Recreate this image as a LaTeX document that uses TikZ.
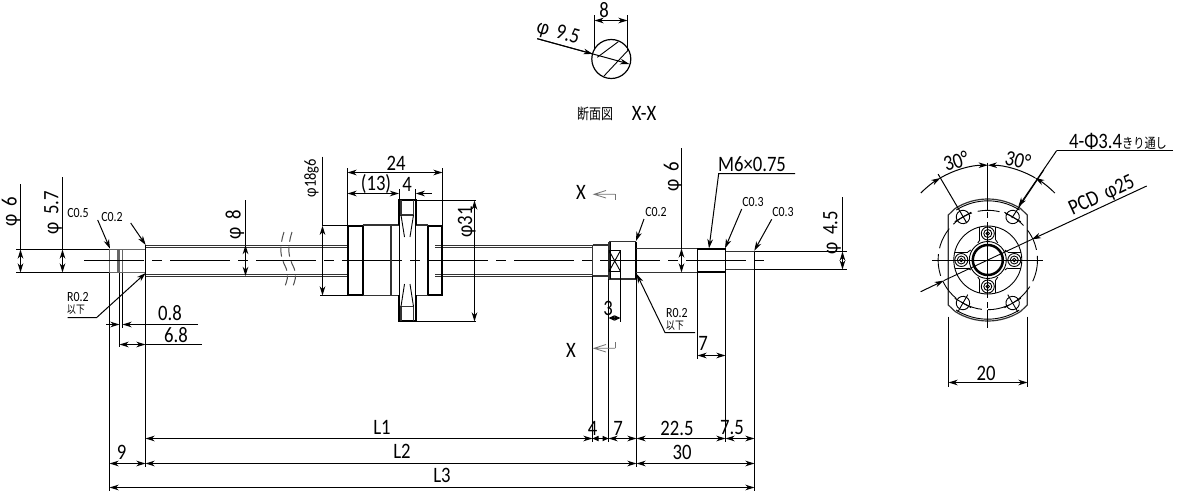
\documentclass[tikz,border=0pt]{standalone}
\usepackage{fontspec}
\setmainfont[FakeStretch=.85]{Carlito}
\newfontfamily\cjk[FakeStretch=.8]{Noto Sans CJK JP}
\newcommand{\dsp}{\hspace*{.35em}}
\usetikzlibrary{arrows.meta}
\tikzset{
  thinl/.style={line width=.45pt,black},
  midl/.style={line width=.6pt,black!80},
  boldl/.style={line width=.85pt,black},
  grayl/.style={line width=.5pt,black!60},
  dimline/.style={line width=.5pt,black,arrows={Stealth[length=4.6pt,width=2.8pt,inset=1.4pt]-Stealth[length=4.6pt,width=2.8pt,inset=1.4pt]}},
  dimtight/.style={line width=.5pt,black,arrows={Stealth[length=3pt,width=2.6pt,inset=0pt]-Stealth[length=3pt,width=2.6pt,inset=0pt]}},
  lead/.style={line width=.5pt,black,arrows={-Stealth[length=4.6pt,width=2.8pt,inset=1.4pt]}},
  ext/.style={line width=.5pt,black},
  centerl/.style={line width=.5pt,black,dash pattern=on 30pt off 4pt on 5pt off 4pt},
  big/.style={inner sep=0pt,font=\fontsize{11}{11}\selectfont},
  small/.style={inner sep=0pt,font=\fontsize{7}{7}\selectfont},
  viewarrow/.style={line width=.4pt,black!55},
}
\begin{document}
\begin{tikzpicture}[x=.5pt,y=.5pt,yscale=-1]
\path[use as bounding box,fill=white] (0,0) rectangle (1180,493);

% ---------- shaft, left end
\draw[boldl] (16,249.5) -- (109.5,249.5) (16,272.5) -- (109.5,272.5);
\draw[grayl,line width=.8pt] (109.5,249.5) rectangle (118,272.5);
\draw[grayl,line width=.8pt] (119.5,249.5) rectangle (122.5,272.5);
\draw[grayl] (122.5,249.5) -- (145.5,249.5) (122.5,272.5) -- (145.5,272.5);
\draw[boldl] (145.5,245) -- (145.5,276);
% main shaft
\draw[midl] (145.5,245.5) -- (347.7,245.5) (145.5,247.5) -- (347.7,247.5)
  (145.5,274.5) -- (347.7,274.5) (145.5,276.5) -- (347.7,276.5);
\draw[midl] (435,245.5) -- (592.5,245.5) (435,247.5) -- (592.5,247.5)
  (435,274.5) -- (592.5,274.5) (435,276.5) -- (592.5,276.5);
% break marks
\draw[black!70,line width=.5pt,dash pattern=on 5pt off 2.5pt] (284,232) .. controls (279,248) and (280,256) .. (286,268) .. controls (289,276) and (287,282) .. (284,288);
\draw[black!70,line width=.5pt,dash pattern=on 5pt off 2.5pt] (292,232) .. controls (287,248) and (288,256) .. (294,268) .. controls (297,276) and (295,282) .. (292,288);
% centre line
\draw[centerl] (84,260.5) -- (769,260.5);

% ---------- nut
\draw[boldl] (347.7,225.7) rectangle (362.7,295.3);
\draw[boldl] (427.7,225.7) rectangle (442.3,295.3);
\draw[midl] (362.7,225) -- (399,225) (362.7,295.3) -- (399,295.3);
\draw[midl] (391,225) -- (391,295.3);
\draw[midl] (415.7,225) -- (427.7,225) (415.7,295.3) -- (427.7,295.3);
\draw[boldl] (399,225) -- (399,200) -- (415.7,200) -- (415.7,225);
\draw[boldl] (399,295.3) -- (399,321) -- (415.7,321) -- (415.7,295.3);
\draw[midl] (401,200) -- (401,215) -- (413.5,215) -- (413.5,200);
\draw[midl] (401,321) -- (401,306.5) -- (413.5,306.5) -- (413.5,321);
\draw[thinl] (399,225) -- (399,295.3) (415.7,225) -- (415.7,295.3);
\draw[thinl] (401,215) -- (404.5,237) (413.5,215) -- (410,237);
\draw[thinl] (401,306.5) -- (404.5,284) (413.5,306.5) -- (410,284);

% ---------- right end
\draw[midl] (592.5,245) -- (609,245) (592.5,276) -- (609,276) (592.5,245) -- (592.5,276);
\draw[midl] (609,241.7) -- (635.7,241.7) (609,279) -- (635.7,279) (609,241.7) -- (609,279);
\draw[thinl] (610.7,241.7) -- (610.7,279);
\draw[boldl] (635.7,241.7) -- (635.7,279);
\draw[thinl] (609,250.5) rectangle (620.5,271.5) (609,250.5) -- (620.5,271.5) (620.5,250.5) -- (609,271.5);
\draw[midl] (635.7,248.5) -- (697.5,248.5) (635.7,272.5) -- (697.5,272.5);
\draw[boldl] (697.5,249.3) rectangle (725.5,271.7);
\draw[midl] (725.5,251.5) -- (754.5,251.5) (725.5,269.5) -- (754.5,269.5);
\draw[boldl] (754.5,251.5) -- (754.5,269.5);
\draw[ext] (754.5,251.5) -- (846.7,251.5) (754.5,269.5) -- (846.7,269.5);

% ---------- extension lines
\draw[ext] (20.5,184) -- (20.5,249.5);
\draw[ext] (62.5,177) -- (62.5,249.5);
\draw[ext] (245.5,200) -- (245.5,245);
\draw[ext] (109.5,272.5) -- (109.5,491);
\draw[ext] (119.5,272.5) -- (119.5,347);
\draw[ext] (122.5,272.5) -- (122.5,328);
\draw[ext] (145.5,276) -- (145.5,467);
\draw[ext] (322.5,156.7) -- (322.5,225.7) (322.5,225.7) -- (347.7,225.7) (320,295.5) -- (347.7,295.5);
\draw[ext] (347.5,168) -- (347.5,225.7) (442.5,168) -- (442.5,225.7);
\draw[ext] (399,189) -- (399,200) (415.7,189) -- (415.7,200);
\draw[ext] (415.7,200.5) -- (476,200.5) (415.7,321.5) -- (476,321.5);
\draw[ext] (592.5,276) -- (592.5,442);
\draw[ext] (608.5,279) -- (608.5,442);
\draw[ext] (620.5,271.5) -- (620.5,322);
\draw[ext] (636.5,279) -- (636.5,467);
\draw[ext] (681.5,148) -- (681.5,248.5);
\draw[ext] (697.5,272) -- (697.5,359);
\draw[ext] (725.5,272) -- (725.5,442);
\draw[ext] (754.5,269.5) -- (754.5,491);
\draw[ext] (842.5,197) -- (842.5,251.5);

% ---------- vertical dimensions
\draw[dimline] (20.5,249.5) -- (20.5,272.5);
\draw[dimline] (62.5,249.5) -- (62.5,272.5);
\draw[dimline] (245.5,245) -- (245.5,276);
\draw[dimline] (322.5,225.7) -- (322.5,295.5);
\draw[dimline] (474.5,200.5) -- (474.5,321.5);
\draw[dimline] (681.5,248.5) -- (681.5,272.5);
\draw[dimline] (842.5,251.5) -- (842.5,269.5);

% ---------- horizontal dimensions
\draw[lead] (106,324.5) -- (119.5,324.5);
\draw[lead] (198,324.5) -- (122.5,324.5);
\draw[dimline] (119.5,344.5) -- (145.5,344.5);
\draw[ext] (145.5,344.5) -- (201.7,344.5);
\draw[dimline] (347.5,172.5) -- (442.5,172.5);
\draw[dimline] (347.5,193.5) -- (399,193.5);
\draw[lead] (431.7,193.5) -- (415.7,193.5);
\draw[dimtight] (608.5,318) -- (620.5,318);
\draw[dimline] (697.5,355.5) -- (725.5,355.5);
\draw[dimline] (145.5,438.5) -- (592.5,438.5);
\draw[dimtight] (592.5,438.5) -- (608.5,438.5);
\draw[dimline] (608.5,438.5) -- (636.5,438.5);
\draw[dimline] (636.5,438.5) -- (725.5,438.5);
\draw[dimline] (725.5,438.5) -- (754.5,438.5);
\draw[dimline] (109.5,463.5) -- (145.5,463.5);
\draw[dimline] (145.5,463.5) -- (636.5,463.5);
\draw[dimline] (636.5,463.5) -- (754.5,463.5);
\draw[dimline] (109.5,487.5) -- (754.5,487.5);

% ---------- leaders
\draw[lead] (97.7,220) -- (110,248.7);
\draw[lead] (130.7,223) -- (145.7,245);
\draw[lead] (67.7,317.5) -- (96.7,317.5) -- (145.7,273);
\draw[lead] (644,219) -- (636,241);
\draw[lead] (695,332.5) -- (665,332.5) -- (636.7,274);
\draw[lead] (795,173.5) -- (718.7,173.5) -- (709,248.3);
\draw[lead] (741.7,209) -- (725,248.3);
\draw[lead] (771.7,219.3) -- (754.3,250.7);

% ---------- view arrows X-X
\draw[viewarrow] (606,190.5) -- (594,194.3) -- (606,198) (594,194.3) -- (615,194.3);
\draw[viewarrow,dashed] (615,194.3) -- (615,205);
\draw[viewarrow] (606,344.5) -- (594,348.3) -- (606,352) (594,348.3) -- (615,348.3);
\draw[viewarrow,dashed] (615,348.3) -- (615,337);

% ---------- section view
\draw[thinl,line width=.6pt] (611.3,59) circle[radius=19.5];
\draw[thinl] (597.3,57.3) -- (618.3,41.7) (604,76) -- (628.3,50);
\draw[ext] (594.5,15) -- (594.5,50) (627.5,15) -- (627.5,50);
\draw[dimline] (594.5,20.5) -- (627.5,20.5);
\draw[lead] (537.3,38.7) -- (629.3,64);
\draw[lead] (537.3,38.7) -- (592.7,53.9);

% ---------- end view
\begin{scope}[shift={(987.8,260)}]
\draw[midl] (-39.5,-45) -- (-32.7,-51.5) arc[start angle=-122.4,end angle=-57.6,radius=61] -- (39.5,-45) -- (39.5,45) -- (32.7,51.5) arc[start angle=57.6,end angle=122.4,radius=61] -- (-39.5,45) -- cycle;
\draw[thinl] (-31.5,-50) arc[start angle=-122.4,end angle=-57.6,radius=59];
\draw[thinl] (31.5,50) arc[start angle=57.6,end angle=122.4,radius=59];
\draw[thinl,dash pattern=on 11pt off 3pt] (0,0) circle[radius=49.7];
\draw[thinl] (0,0) circle[radius=34];
\draw[thinl] (0,0) circle[radius=18.5];
\draw[boldl,line width=1.25pt] (0,0) circle[radius=15];
% screws
\foreach \a in {0,90,180,270}{
  \begin{scope}[rotate=\a]
    \draw[thinl] (20,-8) -- (33,-8) (20,8) -- (33,8);
    \draw[thinl,fill=white] (26.5,0) circle[radius=6.5];
    \draw[thinl] (26.5,0) circle[radius=4];
    \draw[thinl] (26.5,0) circle[radius=1.8];
    \draw[thinl] (17,-10) -- (20,-8) (17,10) -- (20,8);
  \end{scope}
}
% holes
\foreach \a in {-120,-60,60,120}{
  \begin{scope}[rotate=\a]
    \draw[thinl] (49.7,0) circle[radius=6.7];
    \draw[thinl] (49.7,-9.5) -- (49.7,9.5);
  \end{scope}
}
\foreach \a in {60,120}{
  \begin{scope}[rotate=\a]
    \draw[thinl] (40,0) -- (60,0);
  \end{scope}
}
\draw[ext] (-49.7,-85.9) -- (-21,-37);
\draw[ext] (56,-90) -- (24,-42);
\draw[thinl] (0,-97.3) -- (0,-50) (0,-48) -- (0,-42) (0,-38) -- (0,38) (0,42) -- (0,48) (0,50) -- (0,68);
\draw[thinl] (-55.8,0) -- (55.2,0);
\draw[thinl] (-44,20.6) -- (44,-20.6);
\coordinate (pcdR) at (44,-20.6);
\coordinate (pcdL) at (-44,20.6);
\draw[lead] (158.9,-74) -- (pcdR);
\draw[lead] (-67.1,31.7) -- (pcdL);
% angle dims
\draw[lead] (-67,-67) arc[start angle=-135,end angle=-120,radius=94.8];
\draw[lead] (67,-67) arc[start angle=-45,end angle=-60,radius=94.8];
\draw[lead] (-47.4,-82.1) arc[start angle=-120,end angle=-90,radius=94.8];
\draw[lead] (47.4,-82.1) arc[start angle=-60,end angle=-90,radius=94.8];
\end{scope}
\draw[ext] (1173,150.5) -- (1056.7,150.5);
\draw[lead] (1056.7,150.5) -- (1018.3,206.7);
\draw[ext] (948.5,316.7) -- (948.5,386.7) (1027.5,316.7) -- (1027.5,386.7);
\draw[dimline] (948.5,382.5) -- (1027.5,382.5);

% ---------- labels
\node[big,rotate=90] (t1) at (11,212) {φ\dsp 6};
\node[big,rotate=90] (t2) at (53,213) {φ\dsp 5.7};
\node[big,rotate=90] (t3) at (235,225) {φ\dsp 8};
\node[small] (t4) at (78,213) {C0.5};
\node[small] (t5) at (112,217) {C0.2};
\node[small] (t6) at (78,297) {R0.2};
\node[inner sep=0pt] (t6b) at (76,310) {\cjk\fontsize{5.5}{5.5}\selectfont 以下};
\node[big] (t7) at (170,313) {0.8};
\node[big] (t8) at (176,335) {6.8};
\node[small,rotate=90,font=\fontsize{8.5}{8.5}\selectfont] (t9) at (311.5,178.3) {φ18g6};
\node[big] (t10) at (396,163) {24};
\node[big] (t11) at (376,184) {(13)};
\node[big] (t12) at (407,184) {4};
\node[big,rotate=90] (t13) at (466.7,222) {φ31};
\node[big] (t14) at (581,192) {X};
\node[big] (t15) at (571,350) {X};
\node[big] (t16) at (608,308) {3};
\node[small] (t17) at (656,212) {C0.2};
\node[small] (t18) at (677,313) {R0.2};
\node[inner sep=0pt] (t19) at (675,326) {\cjk\fontsize{5.5}{5.5}\selectfont 以下};
\node[big,rotate=90] (t20) at (673,177) {φ\dsp 6};
\node[big] (t21) at (752,164) {M6×0.75};
\node[small] (t22) at (753,202) {C0.3};
\node[small] (t23) at (783,212) {C0.3};
\node[big,rotate=90] (t24) at (832,233) {φ\dsp 4.5};
\node[big] (t25) at (703,343) {7};
\node[big] (t26) at (382,427) {L1};
\node[big] (t27) at (402,451) {L2};
\node[big] (t28) at (442,475) {L3};
\node[big] (t29) at (121.7,452) {9};
\node[big] (t30) at (592.7,428) {4};
\node[big] (t31) at (618,428) {7};
\node[big] (t32) at (677,428) {22.5};
\node[big] (t33) at (732,428) {7.5};
\node[big] (t34) at (682,452) {30};
\node[big] (t35) at (604,10) {8};
\node[big,rotate=-16] (t36) at (558,33) {φ\dsp 9.5};
\node[inner sep=0pt] (t37) at (595,114) {\cjk\fontsize{7.5}{7.5}\selectfont 断面図};
\node[big] (t38) at (644,113) {X-X};
\node[big,rotate=18] (t39) at (956,161) {30°};
\node[big,rotate=-14] (t40) at (1018,160) {30°};
\node[big] (t41) at (1118,141) {4-Φ3.4{\cjk\fontsize{7}{7}\selectfont きり通し}};
\node[big,rotate=25] (t42) at (1102,196) {PCD\dsp φ25};
\node[big] (t43) at (986,373) {20};
\end{tikzpicture}
\end{document}
